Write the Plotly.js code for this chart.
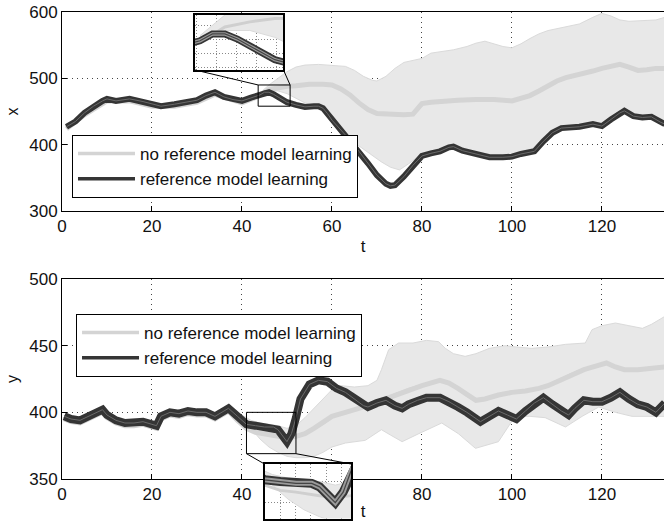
<!DOCTYPE html>
<html><head><meta charset="utf-8">
<script src="https://cdn.plot.ly/plotly-3.0.1.min.js"></script>
<style>html,body{margin:0;padding:0;background:#fff}#chart{width:664px;height:521px}</style>
</head><body><div id="chart"></div>
<script>
// ---------- top panel (x) ----------
const tRefX = [1,3,5,7,9,10,12,15,18,20,22,25,28,30,32,34,36,38,40,42,44,45,46,47,48,49,50,52,54,56,57,58,59,60,62,64,66,68,70,72,73,74,76,78,80,82,84,86,87,89,92,95,98,100,102,104,105,107,109,111,113,115,118,120,122,124,125,127,129,131,133,134];
const refX = [427,435,448,458,466,469,466,469,465,461,458,461,465,467,474,479,472,468,466,471,475,479,479,476,472,468,464,460,457,458,458,455,447,437,422,407,390,372,354,341,338,339,352,369,383,387,390,396,397,391,386,381,381,382,386,389,390,405,418,425,426,427,431,428,438,448,451,443,441,442,434,431];
const tNoRefX = [1,5,10,15,20,25,30,34,40,44,46,48,50,52,55,58,60,62,64,66,68,70,72,74,76,78,79,80,82,85,88,92,96,100,102,104,106,108,110,112,114,116,118,120,122,124,126,128,130,132,134];
const noRefX = [424,445,466,466,458,458,464,476,463,474,483,486,488,489,491,491,490,484,475,463,453,447,446,446,445,446,455,462,464,466,467,468,468,466,470,474,481,489,496,501,504,507,511,515,518,521,517,512,513,515,515];
const tBandXHi = [44,46,48,50,52,54,57,60,63,65,67,69,70,72,74,76,78,80,82,85,87,90,92,94,96,98,100,102,104,106,108,110,112,115,118,120,122,124,126,128,130,132,134];
const bandXHi = [478,490,500,510,517,520,521,520,518,512,503,497,496,503,515,524,527,530,538,541,543,548,553,556,552,548,546,552,560,567,572,575,578,582,592,598,594,588,586,587,588,588,592];
const tBandXLo = [44,46,48,50,52,54,56,58,60,61,63,65,67,69,71,73,75,77,79,81,84,86,88,90,92,95,98,100,102,104,106,108,110,112,115,118,120,122,124,126,128,130,132,134];
const bandXLo = [476,481,481,477,470,463,459,455,445,436,418,403,393,384,374,366,362,371,381,386,390,395,394,389,385,381,381,382,385,389,398,410,420,425,427,430,428,438,448,447,441,441,440,431];

// ---------- bottom panel (y) ----------
const tRefY = [0.5,2,4,6,8,9,10,12,14,16,18,20,21,22,24,26,28,30,32,34,36,37,39,41,43,45,47,48,50,51,52,53,55,57,59,61,63,65,67,68,70,72,74,75.6,77,79,81,84,86,88,90,93,95,97,99,101,103,105,107,109,111,112.6,114,116,118,120,122,124,126,128,130,132,134];
const refY = [397,395,394,397,400,402,398,394,392,392,393,391,390,397,400,399,401,400,400,397,401,403,397,391,390,389,389,387,378,384,396,410,421,424,423,418,415,410,405,404,407,409,405,403,406,409,411,411,408,404,400,393,397,401,398,395,401,407,411,406,401,398,403,409,408,408,411,415,410,406,404,400,407];
const tNoRefY = [0.5,2,4,6,8,9,10,12,14,16,18,20,21,22,24,26,28,30,32,34,36,37,39,41,43,45,48,50,52,54,56,58,60,63,66,68,71,74,77,80,84,86,88,90,92,94,97,100,103,106,108,110,113,116,119,121,123,125,128,131,134];
const noRefY = [395,393,392,395,398,400,396,392,390,390,391,389,388,395,398,397,399,398,398,395,399,401,394,388,385,384,382,381,382,384,388,392,397,400,403,405,409,413,417,420,424,422,418,413,409,410,413,415,416,418,420,423,428,432,435,437,434,432,432,433,434];
const tBandYHi = [40,42,44,46,48,50,52,54,56,58,60,62,65,68,70,71,72.6,74.8,78,81,83.7,85.2,87,89.6,92,95,98.5,101,104.4,108,111.9,116.3,117.8,120,123,126,129,131,134];
const bandYHi = [398,394,392,391,390,388,390,396,403,410,417,420,419,420,424,432,447,452,452,454,453,448,444,442,444,448,450,449,448,449,451,452,462,465,467,465,463,466,472];
const tBandYLo = [40,42,44,46,48,50,52,54,56,58,60,63,67.4,71,73,75.6,79.3,84.4,88.1,91.9,97,100.7,104,107.4,111.9,115.6,119.3,123,126.7,130,134];
const bandYLo = [394,388,380,374,370,367,366,366,367,370,374,377,379,387,383,378,384,392,384,373,378,397,397,396,389,397,404,400,397,397,397];

const seriesNames = ['no reference model learning', 'reference model learning'];
const xTicks = [0,20,40,60,80,100,120];
const topYTicks = [300,400,500,600];
const botYTicks = [350,400,450,500];
// zoom windows shown in the insets
const zoomTop = {t:[43.6,50.7], v:[458,490]};
const zoomBot = {t:[41,52], v:[369,400]};

const FONT = 'Liberation Sans, Arial, Helvetica, sans-serif';
const GREY = '#d4d4d4', DARK = '#353535';

function panel(xa, ya, t, ref, tn, noref, tHi, hi, tLo, lo, opts) {
  const tr = [];
  tr.push({x:tLo, y:lo, xaxis:xa, yaxis:ya, mode:'lines', line:{color:'#dadada', width:1}, showlegend:false, hoverinfo:'skip'});
  tr.push({x:tHi, y:hi, xaxis:xa, yaxis:ya, mode:'lines', fill:'tonexty', fillcolor:'#e8e8e8', line:{color:'#dadada', width:1}, showlegend:false, hoverinfo:'skip'});
  if (opts.legend) {
    // thin copies that carry the legend entries (hidden beneath the wide strokes)
    tr.push({x:tn, y:noref, xaxis:xa, yaxis:ya, mode:'lines', name:seriesNames[0], line:{color:GREY, width:3.5}, legend:opts.legend});
  }
  tr.push({x:tn, y:noref, xaxis:xa, yaxis:ya, mode:'lines', line:{color:opts.greyC, width:opts.greyW}, showlegend:false, hoverinfo:'skip'});
  if (opts.legend) {
    tr.push({x:t, y:ref, xaxis:xa, yaxis:ya, mode:'lines', name:seriesNames[1], line:{color:DARK, width:3.5}, legend:opts.legend});
  }
  tr.push({x:t, y:ref, xaxis:xa, yaxis:ya, mode:'lines', line:{color:DARK, width:opts.refW}, showlegend:false, hoverinfo:'skip'});
  if (opts.midW) tr.push({x:t, y:ref, xaxis:xa, yaxis:ya, mode:'lines', line:{color:'#9a9a9a', width:opts.midW}, showlegend:false, hoverinfo:'skip'});
  tr.push({x:t, y:ref, xaxis:xa, yaxis:ya, mode:'lines', line:{color:opts.innerC, width:opts.innerW}, showlegend:false, hoverinfo:'skip'});
  return tr;
}

const data = [].concat(
  panel('x','y', tRefX, refX, tNoRefX, noRefX, tBandXHi, bandXHi, tBandXLo, bandXLo, {legend:'legend', greyC:GREY, greyW:5, refW:6, innerC:'#6a6a6a', innerW:1}),
  panel('x2','y2', tRefY, refY, tNoRefY, noRefY, tBandYHi, bandYHi, tBandYLo, bandYLo, {legend:'legend2', greyC:GREY, greyW:5, refW:8, innerC:'#6a6a6a', innerW:1}),
  panel('x3','y3', tRefX, refX, tNoRefX, noRefX, tBandXHi, bandXHi, tBandXLo, bandXLo, {greyC:'#cfcfcf', greyW:3, refW:7, midW:3.5, innerC:'#444', innerW:1.2}),
  panel('x4','y4', tRefY, refY, tNoRefY, noRefY, tBandYHi, bandYHi, tBandYLo, bandYLo, {greyC:'#cfcfcf', greyW:3, refW:9, midW:5, innerC:'#444', innerW:1.2})
);

const gridDash = '1px,4px';
function mainX(dom, anchor) {
  return {domain:dom, anchor:anchor, range:[0,133.8], tickvals:xTicks, ticks:'inside', ticklen:5, tickcolor:'#000',
    showline:true, linecolor:'#000', linewidth:1, mirror:true, showgrid:true, gridcolor:'#444', griddash:gridDash, gridwidth:1,
    zeroline:false, tickfont:{size:17, color:'#111', family:FONT}, title:{text:'t', font:{size:17, color:'#111', family:FONT}, standoff:4}};
}
function mainY(dom, anchor, range, ticks, label) {
  return {domain:dom, anchor:anchor, range:range, tickvals:ticks, ticks:'inside', ticklen:5, tickcolor:'#000',
    showline:true, linecolor:'#000', linewidth:1, mirror:false, showgrid:true, gridcolor:'#444', griddash:gridDash, gridwidth:1,
    zeroline:false, tickfont:{size:17, color:'#111', family:FONT}, title:{text:label, font:{size:16, color:'#111', family:FONT}, standoff:6}};
}
function insetAx(dom, anchor, range, tick0, dtick) {
  return {domain:dom, anchor:anchor, range:range, showticklabels:false, ticks:'', showline:true, linecolor:'#000', linewidth:2, mirror:true,
    showgrid:true, gridcolor:'#888', griddash:'1px,2px', gridwidth:1, tick0:tick0, dtick:dtick, zeroline:false};
}

const topDomY = [0.609, 1];
const botDomY = [0.0825, 0.4754];
const in1X = [0.2209, 0.3679], in1Y = [0.8861, 0.9941];
const in2X = [0.3364, 0.4801], in2Y = [0.0049, 0.1120];
const mainDomX = [0, 1];

function px(v, r, d) { return d[0] + (v - r[0]) / (r[1] - r[0]) * (d[1] - d[0]); }
const xr = [0,133.8];

const legendBase = {xanchor:'left', yanchor:'top', bgcolor:'#fff', bordercolor:'#000', borderwidth:1,
  font:{size:17, color:'#111', family:FONT}, itemwidth:57, tracegroupgap:0, traceorder:'normal'};

const layout = {
  width:664, height:521, margin:{l:62, r:0, t:12, b:0},
  paper_bgcolor:'#fff', plot_bgcolor:'#fff', font:{family:FONT, color:'#111'},
  xaxis: mainX(mainDomX, 'y'),
  yaxis: mainY(topDomY, 'x', [300,600], topYTicks, 'x'),
  xaxis2: mainX(mainDomX, 'y2'),
  yaxis2: mainY(botDomY, 'x2', [350,500], botYTicks, 'y'),
  xaxis3: insetAx(in1X, 'y3', zoomTop.t, 45.3, 1.6),
  yaxis3: insetAx(in1Y, 'x3', zoomTop.v, 467.7, 8.2),
  xaxis4: insetAx(in2X, 'y4', zoomBot.t, 43, 1.95),
  yaxis4: insetAx(in2Y, 'x4', zoomBot.v, 378, 12),
  legend: Object.assign({x:0.0166, y:0.7583}, legendBase),
  legend2: Object.assign({x:0.0233, y:0.4067}, legendBase),
  showlegend:true,
  shapes: [
    {type:'rect', xref:'x', yref:'y', x0:zoomTop.t[0], x1:zoomTop.t[1], y0:zoomTop.v[0], y1:zoomTop.v[1], line:{color:'#000', width:1}},
    {type:'rect', xref:'x2', yref:'y2', x0:zoomBot.t[0], x1:zoomBot.t[1], y0:zoomBot.v[0], y1:zoomBot.v[1], line:{color:'#000', width:1}},
    {type:'line', xref:'paper', yref:'paper', x0:in1X[0], y0:in1Y[0], x1:px(zoomTop.t[0], xr, mainDomX), y1:px(zoomTop.v[1], [300,600], topDomY), line:{color:'#000', width:1}},
    {type:'line', xref:'paper', yref:'paper', x0:in1X[1], y0:in1Y[0], x1:px(zoomTop.t[1], xr, mainDomX), y1:px(zoomTop.v[1], [300,600], topDomY), line:{color:'#000', width:1}},
    {type:'line', xref:'paper', yref:'paper', x0:in2X[0], y0:in2Y[1], x1:px(zoomBot.t[0], xr, mainDomX), y1:px(zoomBot.v[0], [350,500], botDomY), line:{color:'#000', width:1}},
    {type:'line', xref:'paper', yref:'paper', x0:in2X[1], y0:in2Y[1], x1:px(zoomBot.t[1], xr, mainDomX), y1:px(zoomBot.v[0], [350,500], botDomY), line:{color:'#000', width:1}}
  ]
};

Plotly.newPlot('chart', data, layout, {displayModeBar:false, staticPlot:true});
</script>
</body></html>
